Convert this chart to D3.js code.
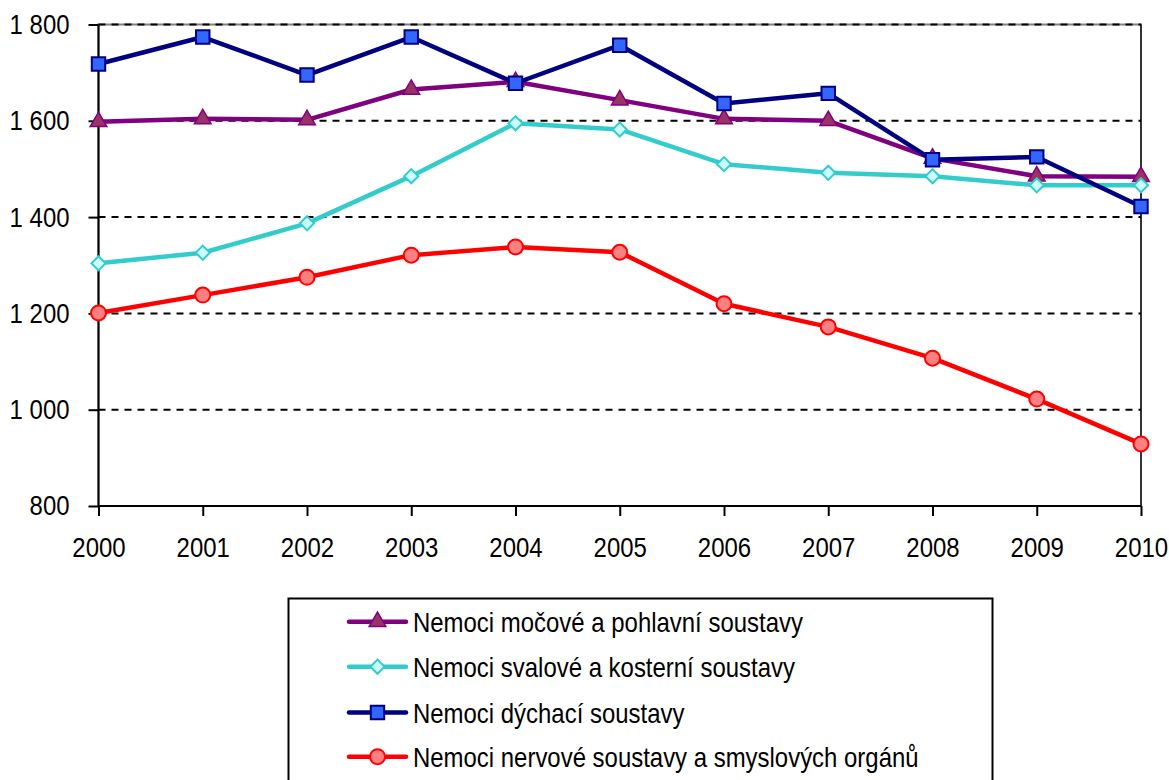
<!DOCTYPE html>
<html><head><meta charset="utf-8">
<script src="https://cdn.jsdelivr.net/npm/d3@7"></script>
<style>
html,body{margin:0;padding:0;background:#fff;}
text{font-family:'Liberation Sans Narrow','Arial Narrow','Liberation Sans',Arial,sans-serif;fill:#000;}
</style></head>
<body>
<svg id="chart" width="1169" height="780"></svg>
<script>
const years = ["2000","2001","2002","2003","2004","2005","2006","2007","2008","2009","2010"];
const seriesNames = [
  "Nemoci močové a pohlavní soustavy",
  "Nemoci svalové a kosterní soustavy",
  "Nemoci dýchací soustavy",
  "Nemoci nervové soustavy a smyslových orgánů"
];
const mocove   = [1598,1604,1602,1665,1681,1643,1604,1600,1522,1485,1484];
const svalove  = [1304,1326,1387,1485,1595,1582,1510,1492,1485,1466,1466];
const dychaci  = [1718,1774,1695,1774,1678,1757,1636,1657,1519,1525,1422];
const nervove  = [1201,1238,1275,1321,1338,1327,1220,1172,1107,1022,929];
const yTicks = [800,1000,1200,1400,1600,1800];

const styles = [
  {line:"#800080", fill:"#993366", stroke:"#800080", shape:"triangle"},
  {line:"#33CCCC", fill:"#CCFFFF", stroke:"#33CCCC", shape:"diamond"},
  {line:"#000080", fill:"#3366FF", stroke:"#000080", shape:"square"},
  {line:"#FF0000", fill:"#FF8080", stroke:"#FF0000", shape:"circle"}
];
const data = [mocove, svalove, dychaci, nervove];

const svg = d3.select("#chart");
const L = 98.5, R = 1141, T = 24.5, B = 506;
const x = d3.scalePoint().domain(years).range([L, R]);
const y = d3.scaleLinear().domain([800,1800]).range([B, T]);
const fmt = d => d >= 1000 ? Math.floor(d/1000) + " " + String(d%1000).padStart(3,"0") : String(d);

// condense text horizontally (narrow font look)
function condense(sel, f){
  sel.each(function(){
    const w = this.getComputedTextLength();
    d3.select(this).attr("textLength", (w*f).toFixed(1)).attr("lengthAdjust","spacingAndGlyphs");
  });
}
const NARROW = 0.855;

// plot border
svg.append("rect").attr("x",L).attr("y",T).attr("width",R-L).attr("height",B-T)
  .attr("fill","none").attr("stroke","#808080").attr("stroke-width",2);
svg.append("line").attr("x1",R).attr("x2",R).attr("y1",T).attr("y2",B)
  .attr("stroke","#333").attr("stroke-width",2);

// gridlines
svg.append("g").selectAll("line").data(yTicks.filter(d=>d>800)).join("line")
  .attr("x1",L).attr("x2",R).attr("y1",d=>y(d)).attr("y2",d=>y(d))
  .attr("stroke","#000").attr("stroke-width",2).attr("stroke-dasharray","7,6");

// axes
const yAxis = d3.axisLeft(y).tickValues(yTicks).tickFormat(fmt).tickSize(10).tickSizeOuter(0).tickPadding(19);
const gy = svg.append("g").attr("transform",`translate(${L},0)`).call(yAxis);
gy.select(".domain").remove();
gy.selectAll("line").attr("stroke","#000").attr("stroke-width",2);
gy.attr("font-family",null).attr("font-size",null);
gy.selectAll("text").style("font-size","28px").call(condense, NARROW);

const xAxis = d3.axisBottom(x).tickSize(10).tickSizeOuter(0).tickPadding(21);
const gx = svg.append("g").attr("transform",`translate(0,${B})`).call(xAxis);
gx.select(".domain").remove();
gx.selectAll("line").attr("stroke","#000").attr("stroke-width",2);
gx.attr("font-family",null).attr("font-size",null);
gx.selectAll("text").style("font-size","28px").call(condense, NARROW);

svg.append("line").attr("x1",L).attr("x2",L).attr("y1",T).attr("y2",B).attr("stroke","#000").attr("stroke-width",2);
svg.append("line").attr("x1",L).attr("x2",R).attr("y1",B).attr("y2",B).attr("stroke","#000").attr("stroke-width",2);

function marker(sel, st){
  if (st.shape === "circle") {
    sel.append("circle").attr("r",7.5).attr("fill",st.fill).attr("stroke",st.stroke).attr("stroke-width",2);
  } else if (st.shape === "square") {
    sel.append("path").attr("d", d3.symbol(d3.symbolSquare, 180)()).attr("fill",st.fill).attr("stroke",st.stroke).attr("stroke-width",2);
  } else if (st.shape === "diamond") {
    sel.append("path").attr("d", d3.symbol(d3.symbolSquare, 100)()).attr("transform","rotate(45)")
      .attr("fill",st.fill).attr("stroke",st.stroke).attr("stroke-width",2);
  } else {
    sel.append("path").attr("d", d3.symbol(d3.symbolTriangle, 120)()).attr("fill",st.fill).attr("stroke",st.stroke).attr("stroke-width",1.5);
  }
}

const line = d3.line().x((d,i)=>x(years[i])).y(d=>y(d));
data.forEach((vals, k) => {
  const st = styles[k];
  const g = svg.append("g");
  g.append("path").datum(vals).attr("d", line).attr("fill","none")
    .attr("stroke", st.line).attr("stroke-width",4.5).attr("stroke-linejoin","round");
  vals.forEach((v,i) => {
    const m = g.append("g").attr("transform",`translate(${x(years[i])},${y(v)})`);
    marker(m, st);
  });
});

// legend
const lg = svg.append("g");
lg.append("rect").attr("x",288.5).attr("y",598.5).attr("width",704).attr("height",220)
  .attr("fill","#fff").attr("stroke","#000").attr("stroke-width",2);
const rowY = [621.7, 666.7, 712.5, 756.7];
seriesNames.forEach((name,k) => {
  const st = styles[k];
  const g = lg.append("g").attr("transform",`translate(0,${rowY[k]})`);
  g.append("line").attr("x1",349).attr("x2",406).attr("y1",0).attr("y2",0)
    .attr("stroke",st.line).attr("stroke-width",4.5).attr("stroke-linecap","round");
  const m = g.append("g").attr("transform","translate(377.5,0)");
  marker(m, st);
  g.append("text").attr("x",413).attr("y",0).attr("dy","0.36em").style("font-size","28px").text(name)
    .call(condense, NARROW);
});
</script>
</body></html>
